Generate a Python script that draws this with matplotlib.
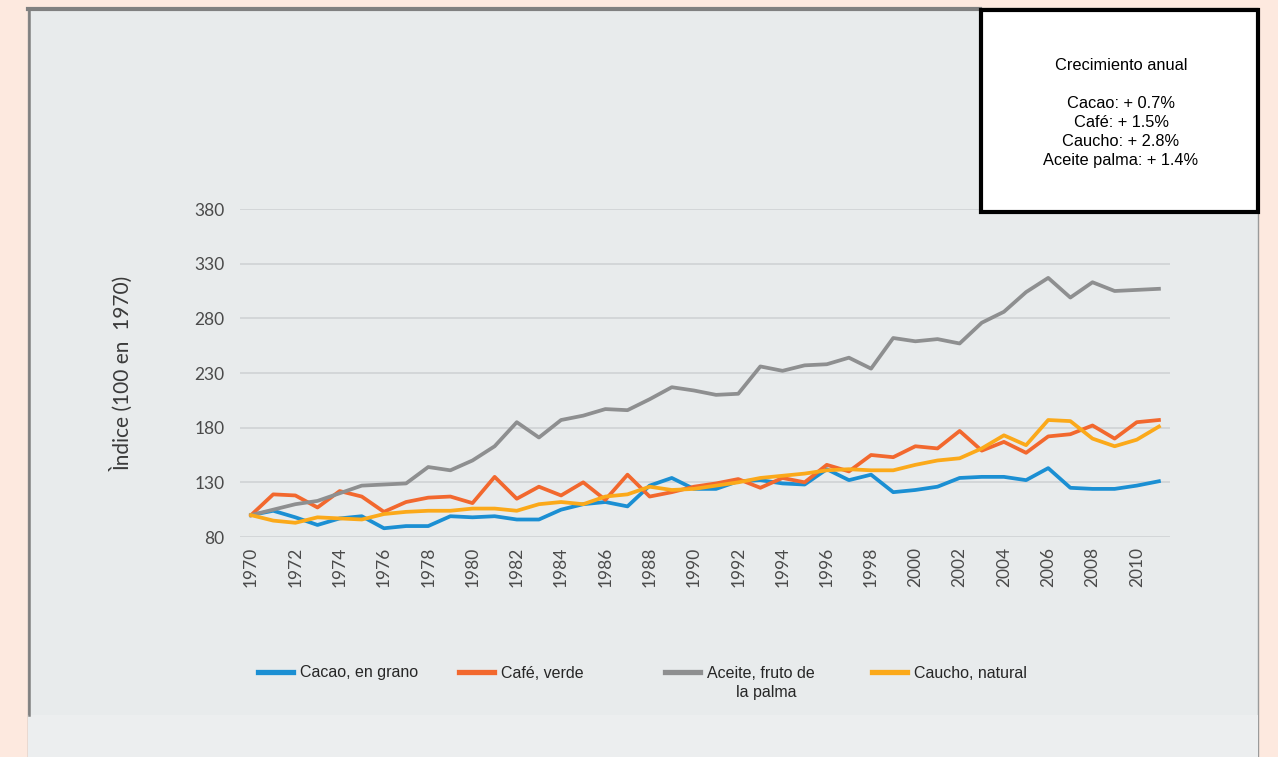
import numpy as np
import matplotlib.pyplot as plt
from matplotlib.patches import Rectangle
from matplotlib.lines import Line2D

years = list(range(1970, 2012))

cacao = [100, 104, 98, 91, 97, 99, 88, 90, 90, 99, 98, 99, 96, 96, 105, 110, 112, 108, 127, 134,
         124, 124, 131, 132, 129, 128, 142, 132, 137, 121, 123, 126, 134, 135, 135, 132, 143, 125,
         124, 124, 127, 131]
cafe = [100, 119, 118, 107, 122, 117, 103, 112, 116, 117, 111, 135, 115, 126, 118, 130, 114, 137, 117, 121,
        126, 129, 133, 125, 134, 130, 146, 140, 155, 153, 163, 161, 177, 159, 167, 157, 172, 174,
        182, 170, 185, 187]
palma = [100, 105, 110, 113, 120, 127, 128, 129, 144, 141, 150, 163, 185, 171, 187, 191, 197, 196, 206, 217,
         214, 210, 211, 236, 232, 237, 238, 244, 234, 262, 259, 261, 257, 276, 286, 304, 317, 299,
         313, 305, 306, 307]
caucho = [100, 95, 93, 98, 97, 96, 101, 103, 104, 104, 106, 106, 104, 110, 112, 110, 117, 119, 126, 123,
          124, 127, 130, 134, 136, 138, 141, 142, 141, 141, 146, 150, 152, 161, 173, 164, 187, 186,
          170, 163, 169, 181]

labels = ['Cacao, en grano', 'Café, verde', 'Aceite, fruto de', 'Caucho, natural']
colors = ['#1b8fd3', '#f2682e', '#8e8f90', '#fba91a']
yticks = [80, 130, 180, 230, 280, 330, 380]
growth = ['Cacao: + 0.7%', 'Café: + 1.5%', 'Caucho: + 2.8%', 'Aceite palma: + 1.4%']

W, H = 1278, 757
fig = plt.figure(figsize=(W / 100, H / 100), dpi=100)
fig.patch.set_facecolor('#fde9df')

# grey panel behind the chart
fig.add_artist(Rectangle((28 / W, 0), 1230 / W, 1 - 8 / H, transform=fig.transFigure,
                         facecolor='#e8ebec', edgecolor='#9a9a9a', lw=1, zorder=0))
fig.add_artist(Rectangle((28 / W, 0), 1230 / W, 42 / H, transform=fig.transFigure,
                         facecolor='#eceeef', edgecolor='none', zorder=0))
fig.add_artist(Line2D([28 / W, 980 / W], [1 - 9 / H, 1 - 9 / H], transform=fig.transFigure,
                      color='#808080', lw=3, zorder=1))
fig.add_artist(Line2D([29 / W, 29 / W], [42 / H, 1 - 8 / H], transform=fig.transFigure,
                      color='#808080', lw=1.8, zorder=1))

ax = fig.add_axes([240 / W, 1 - 537 / H, 930 / W, 328 / H])
ax.set_facecolor('none')
series = [cacao, cafe, palma, caucho]
for vals, c in zip(series, colors):
    ax.plot(years, vals, color=c, lw=2.7, solid_joinstyle='round', zorder=3)

ax.set_xlim(1969.5, 2011.5)
ax.set_ylim(80, 380)
ax.set_yticks(yticks)
ax.set_xticks(years[::2])
ax.set_xticklabels([str(y) for y in years[::2]], rotation=90)
ax.grid(axis='y', color='#cfd2d4', lw=1.2)
ax.set_axisbelow(True)
for s in ax.spines.values():
    s.set_visible(False)
ax.tick_params(length=0, colors='#4a4a4a', labelsize=12.5, pad=11)
ax.tick_params(axis='x', pad=7)
for t in ax.get_xticklabels() + ax.get_yticklabels():
    t.set_fontfamily('Lato')
ax.set_ylabel('Ìndice (100 en  1970)', fontsize=15, family='Lato', color='#3a3a3a', labelpad=44)

# legend, one entry at a time
leg_x = [258, 459, 665, 872]
for i in range(4):
    h = Line2D([], [], color=colors[i], lw=3.8)
    lg = fig.legend(handles=[h], labels=[labels[i]], loc='center left',
                    bbox_to_anchor=(leg_x[i] / W, 1 - 673 / H), frameon=False,
                    handlelength=2.2, handletextpad=0.45, borderpad=0, borderaxespad=0,
                    prop={'family': 'Liberation Sans', 'size': 11.5})
    for t in lg.get_texts():
        t.set_color('#262626')
fig.text(736 / W, 1 - 692 / H, 'la palma', ha='left', va='center', fontsize=11.5,
         family='Liberation Sans', color='#262626')

# growth box
fig.add_artist(Rectangle((981 / W, 1 - 212 / H), 277 / W, 202 / H, transform=fig.transFigure,
                         facecolor='white', edgecolor='black', lw=3, zorder=5))
fig.text(1121 / W, 1 - 66 / H, 'Crecimiento anual', ha='center', va='center', fontsize=11.8,
         family='Liberation Sans', color='black', zorder=6)
for i, g in enumerate(growth):
    fig.text(1121 / W, 1 - (104 + 18.8 * i) / H, g, ha='center', va='center', fontsize=11.8,
             family='Liberation Sans', color='black', zorder=6)

fig.savefig('out.png', dpi=100, facecolor=fig.get_facecolor())
